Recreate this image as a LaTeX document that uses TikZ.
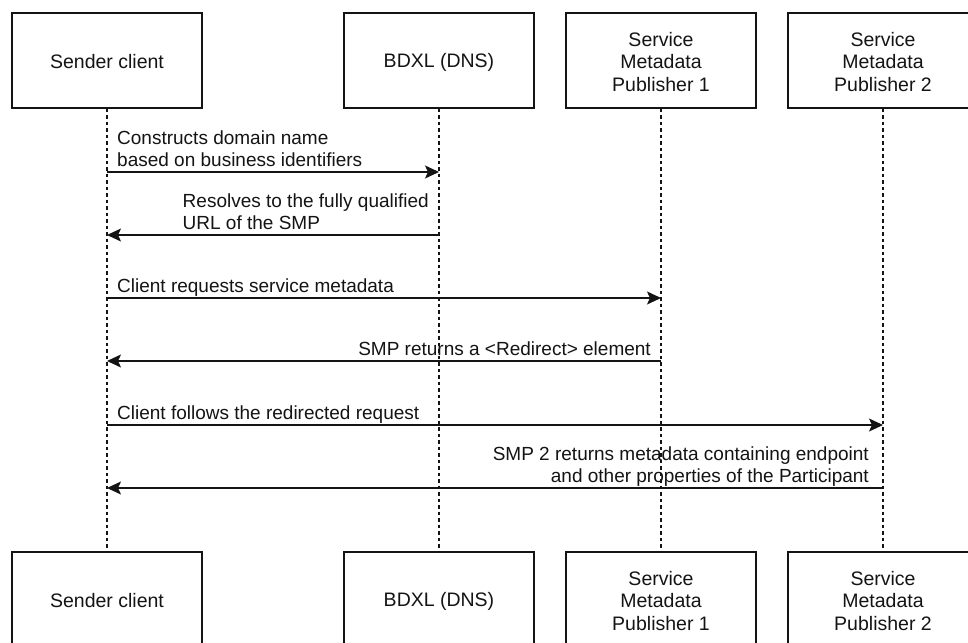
\documentclass[tikz,border=0pt]{standalone}
\usepackage{fontspec}
\setmainfont{Liberation Sans}
\usetikzlibrary{arrows.meta}
\definecolor{ink}{RGB}{20,20,20}
\newcommand{\bxs}{\rule[-2pt]{0pt}{20pt}}
\begin{document}
\begin{tikzpicture}[x=1pt,y=-1pt,
  actor/.style={draw=ink, line width=1.4pt, minimum width=190pt, minimum height=95pt,
    align=center, inner sep=0pt, text=ink, font=\fontsize{19.5}{22.5}\selectfont},
  life/.style={draw=ink, dash pattern=on 3.5pt off 3pt, line width=1.3pt},
  msg/.style={draw=ink, line width=1.4pt, -{Stealth[length=14pt,width=13pt,inset=3pt]}},
  lbl/.style={inner sep=0pt, text=ink, font=\fontsize{19}{22}\selectfont}]
\useasboundingbox (0,0) rectangle (968,642);
\fill[white] (0,0) rectangle (968,642);
% top actors
\node[actor] (s1) at (107,60.5) {Sender client\bxs};
\node[actor] (b1) at (439,60.5) {BDXL (DNS)\bxs};
\node[actor] (p1) at (661,60.5) {Service\bxs\\Metadata\bxs\\Publisher 1\bxs};
\node[actor] (q1) at (883,60.5) {Service\bxs\\Metadata\bxs\\Publisher 2\bxs};
% bottom actors
\node[actor] (s2) at (107,599.5) {Sender client\bxs};
\node[actor] (b2) at (439,599.5) {BDXL (DNS)\bxs};
\node[actor] (p2) at (661,599.5) {Service\bxs\\Metadata\bxs\\Publisher 1\bxs};
\node[actor] (q2) at (883,599.5) {Service\bxs\\Metadata\bxs\\Publisher 2\bxs};
% lifelines
\draw[life] (s1.south) -- (s2.north);
\draw[life] (b1.south) -- (b2.north);
\draw[life] (p1.south) -- (p2.north);
\draw[life] (q1.south) -- (q2.north);
% message levels
\coordinate (y1) at (0,172);
\coordinate (y2) at (0,235);
\coordinate (y3) at (0,298);
\coordinate (y4) at (0,361);
\coordinate (y5) at (0,425);
\coordinate (y6) at (0,488);
% messages
\draw[msg] (s1 |- y1) -- (b1 |- y1);
\node[lbl, anchor=south west, align=left] (l1) at (117,173.6)
  {Constructs domain name\strut\\based on business identifiers\strut};
\draw[msg] (b1 |- y2) -- (s1 |- y2);
\node[lbl, anchor=south east, align=left] (l2) at (429,236.6)
  {Resolves to the fully qualified\strut\\URL of the SMP\strut};
\draw[msg] (s1 |- y3) -- (p1 |- y3);
\node[lbl, anchor=south west, align=left] (l3) at (117,299.6)
  {Client requests service metadata\strut};
\draw[msg] (p1 |- y4) -- (s1 |- y4);
\node[lbl, anchor=south east, align=right] (l4) at (651,362.6)
  {SMP returns a <Redirect> element\strut};
\draw[msg] (s1 |- y5) -- (q1 |- y5);
\node[lbl, anchor=south west, align=left] (l5) at (117,426.6)
  {Client follows the redirected request\strut};
\draw[msg] (q1 |- y6) -- (s1 |- y6);
\node[lbl, anchor=south east, align=right] (l6) at (869,489.6)
  {SMP 2 returns metadata containing endpoint\strut\\and other properties of the Participant\strut};
\end{tikzpicture}
\end{document}
